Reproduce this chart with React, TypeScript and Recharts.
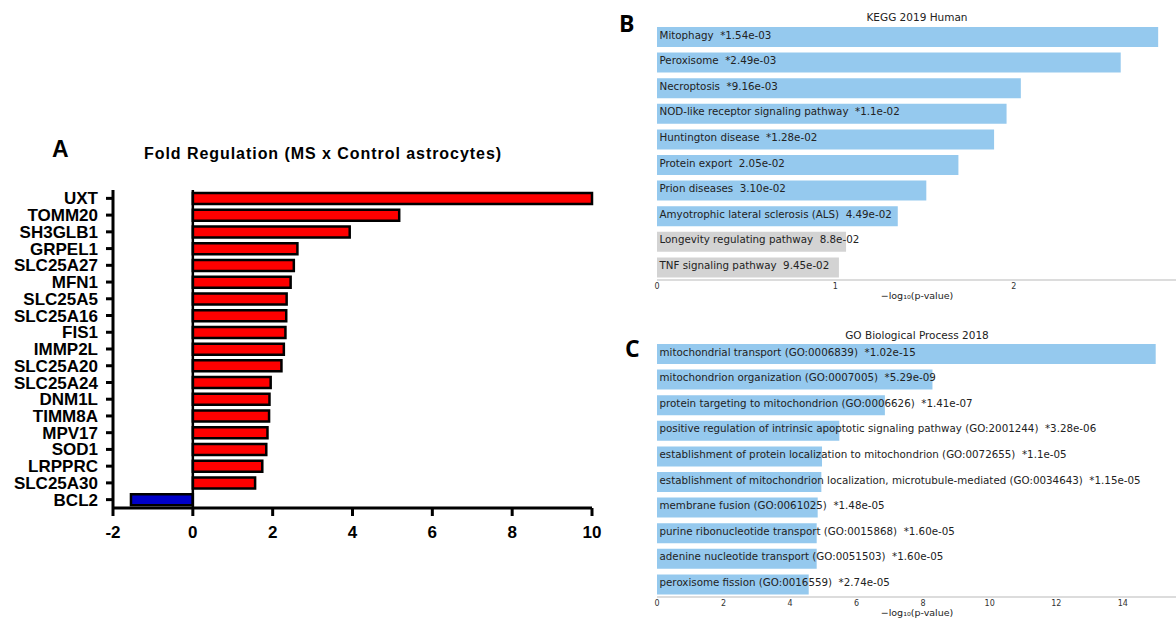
import { BarChart, Bar, XAxis, YAxis, Cell, ReferenceLine, LabelList } from "recharts";

document.body.style.margin = "0";

// Panel A: fold regulation
const genes = [
  "UXT", "TOMM20", "SH3GLB1", "GRPEL1", "SLC25A27", "MFN1", "SLC25A5", "SLC25A16", "FIS1", "IMMP2L",
  "SLC25A20", "SLC25A24", "DNM1L", "TIMM8A", "MPV17", "SOD1", "LRPPRC", "SLC25A30", "BCL2",
];
const foldReg = [10.0, 5.17, 3.93, 2.62, 2.53, 2.45, 2.35, 2.34, 2.32, 2.28, 2.22, 1.95, 1.92, 1.91, 1.87, 1.84, 1.74, 1.56, -1.55];
const foldTicks = [-2, 0, 2, 4, 6, 8, 10];

// Panel B: KEGG 2019 Human
const keggTerms = [
  "Mitophagy", "Peroxisome", "Necroptosis", "NOD-like receptor signaling pathway", "Huntington disease",
  "Protein export", "Prion diseases", "Amyotrophic lateral sclerosis (ALS)", "Longevity regulating pathway", "TNF signaling pathway",
];
const keggP = ["*1.54e-03", "*2.49e-03", "*9.16e-03", "*1.1e-02", "*1.28e-02", "2.05e-02", "3.10e-02", "4.49e-02", "8.8e-02", "9.45e-02"];
const keggScore = [2.81, 2.6, 2.04, 1.96, 1.89, 1.69, 1.51, 1.35, 1.06, 1.02];
const keggSig = [true, true, true, true, true, true, true, true, false, false];
const keggTicks = [0, 1, 2];

// Panel C: GO Biological Process 2018
const goTerms = [
  "mitochondrial transport (GO:0006839)",
  "mitochondrion organization (GO:0007005)",
  "protein targeting to mitochondrion (GO:0006626)",
  "positive regulation of intrinsic apoptotic signaling pathway (GO:2001244)",
  "establishment of protein localization to mitochondrion (GO:0072655)",
  "establishment of mitochondrion localization, microtubule-mediated (GO:0034643)",
  "membrane fusion (GO:0061025)",
  "purine ribonucleotide transport (GO:0015868)",
  "adenine nucleotide transport (GO:0051503)",
  "peroxisome fission (GO:0016559)",
];
const goP = ["*1.02e-15", "*5.29e-09", "*1.41e-07", "*3.28e-06", "*1.1e-05", "*1.15e-05", "*1.48e-05", "*1.60e-05", "*1.60e-05", "*2.74e-05"];
const goScore = [14.99, 8.28, 6.85, 5.48, 4.96, 4.94, 4.83, 4.8, 4.8, 4.56];
const goTicks = [0, 2, 4, 6, 8, 10, 12, 14];

const foldData = genes.map((g, i) => ({ gene: g, value: foldReg[i] }));
const keggData = keggTerms.map((t, i) => ({ term: t, score: keggScore[i], label: `${t}  ${keggP[i]}`, sig: keggSig[i] }));
const goData = goTerms.map((t, i) => ({ term: t, score: goScore[i], label: `${t}  ${goP[i]}`, sig: true }));

const boldArial = { fill: "#000", fontSize: 17, fontWeight: "bold", fontFamily: "Liberation Sans, Arial" };
const dejavu = "DejaVu Sans";

function BarText(props: any) {
  const { x, y, height, value } = props;
  return (
    <text x={x + 2.5} y={y + height / 2 - 2.5} dominantBaseline="central" fontSize={10.3} fontFamily={dejavu} fill="#222" style={{ whiteSpace: "pre" }}>
      {value}
    </text>
  );
}

function EnrichPanel({ data, ticks, max, top }: { data: any[]; ticks: number[]; max: number; top: number }) {
  return (
    <div style={{ position: "absolute", left: 620, top }}>
      <BarChart width={556} height={300} layout="vertical" data={data} margin={{ top: 24, right: 0, left: 37, bottom: 6 }} barSize={20}>
        <XAxis
          type="number"
          domain={[0, max]}
          ticks={ticks}
          interval={0}
          height={14}
          axisLine={{ stroke: "#dcdcdc", strokeWidth: 2 }}
          tickLine={false}
          tickSize={1}
          tick={{ fontSize: 8, fill: "#333", fontFamily: dejavu }}
        />
        <YAxis type="category" dataKey="term" width={0} tick={false} tickLine={false} axisLine={{ stroke: "#b0b0b0", strokeWidth: 1.5 }} />
        <Bar dataKey="score" isAnimationActive={false}>
          {data.map((d, i) => (
            <Cell key={i} fill={d.sig ? "#95C9EE" : "#D3D3D3"} />
          ))}
          <LabelList dataKey="label" content={BarText} />
        </Bar>
      </BarChart>
    </div>
  );
}

export default function App() {
  return (
    <div style={{ position: "relative", width: 1176, height: 618, background: "#fff", overflow: "hidden" }}>
      <div style={{ position: "absolute", left: 0, top: 0 }}>
        <BarChart width={620} height={560} layout="vertical" data={foldData} margin={{ top: 190, right: 28, left: 0, bottom: 20 }} barSize={11}>
          <XAxis
            type="number"
            domain={[-2, 10]}
            ticks={foldTicks}
            interval={0}
            height={32}
            axisLine={{ stroke: "#000", strokeWidth: 3 }}
            tickLine={{ stroke: "#000", strokeWidth: 3 }}
            tickSize={8}
            tickMargin={10}
            tick={boldArial}
          />
          <YAxis
            type="category"
            dataKey="gene"
            width={113}
            interval={0}
            axisLine={{ stroke: "#000", strokeWidth: 3 }}
            tickLine={{ stroke: "#000", strokeWidth: 3 }}
            tickSize={7}
            tickMargin={8}
            tick={boldArial}
          />
          <Bar dataKey="value" stroke="#000" strokeWidth={2.5} isAnimationActive={false}>
            {foldData.map((d, i) => (
              <Cell key={i} fill={d.value < 0 ? "#0000C8" : "#FF0000"} />
            ))}
          </Bar>
          <ReferenceLine x={0} stroke="#000" strokeWidth={2.5} />
        </BarChart>
      </div>
      <div style={{ position: "absolute", left: 52, top: 137.5, fontSize: 23, lineHeight: 1, fontWeight: "bold", fontFamily: "Liberation Sans, Arial" }}>A</div>
      <div style={{ position: "absolute", left: 323, top: 146, transform: "translateX(-50%)", whiteSpace: "nowrap", fontSize: 16, letterSpacing: 0.95, lineHeight: 1, fontWeight: "bold", fontFamily: "Liberation Sans, Arial" }}>
        Fold Regulation (MS x Control astrocytes)
      </div>

      <EnrichPanel data={keggData} ticks={keggTicks} max={2.91} top={0} />
      <div style={{ position: "absolute", left: 619, top: 12, fontSize: 23, lineHeight: 1, fontWeight: "bold", fontFamily: "Open Sans" }}>B</div>
      <div style={{ position: "absolute", left: 917, top: 12, transform: "translateX(-50%)", whiteSpace: "nowrap", fontSize: 10.5, lineHeight: 1, fontFamily: dejavu, color: "#222" }}>
        KEGG 2019 Human
      </div>
      <div style={{ position: "absolute", left: 917, top: 291, transform: "translateX(-50%)", whiteSpace: "nowrap", fontSize: 9.5, lineHeight: 1, fontFamily: dejavu, color: "#222" }}>
        −log₁₀(p-value)
      </div>

      <EnrichPanel data={goData} ticks={goTicks} max={15.6} top={317} />
      <div style={{ position: "absolute", left: 625, top: 336.5, fontSize: 23, lineHeight: 1, fontWeight: "bold", fontFamily: "Open Sans" }}>C</div>
      <div style={{ position: "absolute", left: 917, top: 330, transform: "translateX(-50%)", whiteSpace: "nowrap", fontSize: 10.5, lineHeight: 1, fontFamily: dejavu, color: "#222" }}>
        GO Biological Process 2018
      </div>
      <div style={{ position: "absolute", left: 917, top: 608, transform: "translateX(-50%)", whiteSpace: "nowrap", fontSize: 9.5, lineHeight: 1, fontFamily: dejavu, color: "#222" }}>
        −log₁₀(p-value)
      </div>
    </div>
  );
}
